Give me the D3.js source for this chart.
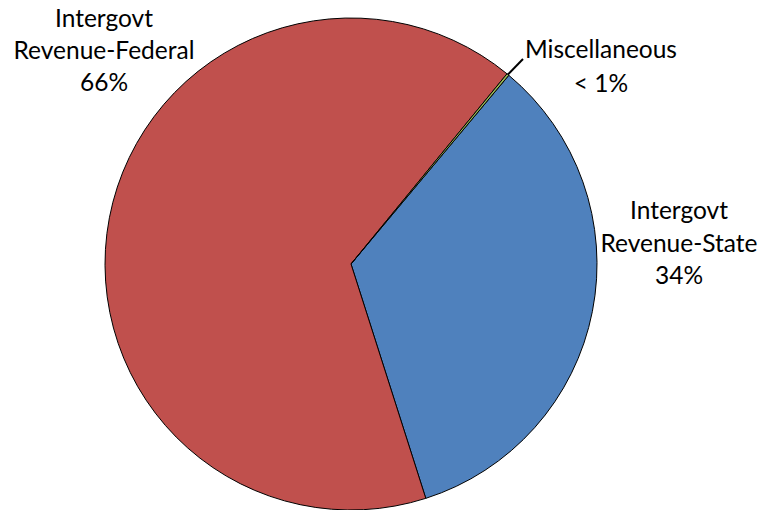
<!DOCTYPE html>
<html>
<head>
<meta charset="utf-8">
<script src="https://cdn.jsdelivr.net/npm/d3@7"></script>
<style>
  html, body { margin: 0; padding: 0; background: #fff; }
  svg { display: block; }
  text { font-family: Lato, "Open Sans", sans-serif; fill: #000; }
</style>
</head>
<body>
<svg id="chart" width="778" height="510"></svg>
<script>
// Revenue sources, in clockwise drawing order
const categories = ["Intergovt Revenue-State", "Intergovt Revenue-Federal", "Miscellaneous"];
const values = [34.0, 65.85, 0.15];
const valueLabels = ["34%", "66%", "< 1%"];
const labelLines = [["Intergovt", "Revenue-State"], ["Intergovt", "Revenue-Federal"], ["Miscellaneous"]];
const colors = ["#4F81BD", "#C0504D", "#9BBB59"];

const svg = d3.select("#chart");
const cx = 351, cy = 264, radius = 246;
const startDeg = 39.9;

const pie = d3.pie()
  .sort(null)
  .value(d => d.value)
  .startAngle(startDeg * Math.PI / 180)
  .endAngle((startDeg + 360) * Math.PI / 180);

const data = categories.map((c, i) => ({ name: c, value: values[i], color: colors[i], lines: labelLines[i], pct: valueLabels[i] }));
const arcs = pie(data);

const arc = d3.arc().innerRadius(0).outerRadius(radius);

const g = svg.append("g").attr("transform", `translate(${cx},${cy})`);

g.selectAll("path.slice")
  .data(arcs)
  .join("path")
  .attr("class", "slice")
  .attr("d", arc)
  .attr("fill", d => d.data.color)
  .attr("stroke", "#000")
  .attr("stroke-width", 1)
  .attr("stroke-linejoin", "round");

// Label positions around the pie (label block centre x, first baseline y, line gap)
const labelPos = {
  "Intergovt Revenue-State": { x: 679, y: 219, gap: 32.5 },
  "Intergovt Revenue-Federal": { x: 104, y: 27, gap: 32 },
  "Miscellaneous": { x: 601, y: 58, gap: 34 }
};
const fontSize = 24.5;

arcs.forEach(a => {
  const p = labelPos[a.data.name];
  const t = svg.append("text")
    .attr("text-anchor", "middle")
    .attr("font-size", fontSize);
  const lines = a.data.lines.concat([a.data.pct]);
  lines.forEach((ln, i) => {
    t.append("tspan").attr("x", p.x).attr("y", p.y + i * p.gap).text(ln);
  });
});

// Leader line for the small Miscellaneous slice
const misc = arcs.find(a => a.data.name === "Miscellaneous");
const mid = (misc.startAngle + misc.endAngle) / 2;
const ax = cx + radius * Math.sin(mid), ay = cy - radius * Math.cos(mid);
svg.append("line")
  .attr("x1", ax).attr("y1", ay)
  .attr("x2", 523).attr("y2", 59)
  .attr("stroke", "#000")
  .attr("stroke-width", 2);
</script>
</body>
</html>
